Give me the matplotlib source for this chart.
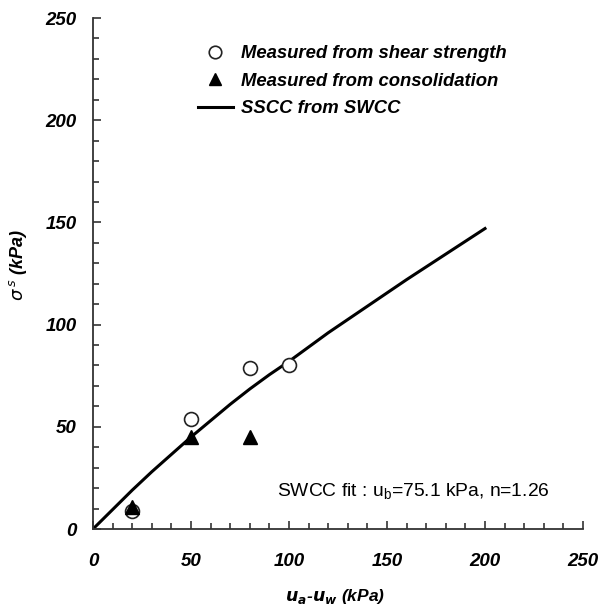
import matplotlib
matplotlib.use("Agg")
import matplotlib.pyplot as plt
from matplotlib.ticker import MultipleLocator

# Data
shear_x = [20, 50, 80, 100]
shear_y = [9, 54, 79, 80]
consol_x = [20, 50, 80]
consol_y = [11, 45, 45]
sscc_x = [0, 10, 20, 30, 40, 50, 60, 70, 80, 90, 100, 120, 140, 160, 180, 200]
sscc_y = [0, 9.5, 19, 28, 36.5, 45, 53, 61, 68.5, 75.5, 82, 96, 109, 122, 134.5, 147]

plt.rcParams['font.family'] = ['Liberation Sans', 'DejaVu Sans']
W, H = 604, 611
fig = plt.figure(figsize=(W/100, H/100), dpi=100)
ax = fig.add_axes([93/W, (H-529)/H, (583-93)/W, (529-18)/H])

ax.plot(sscc_x, sscc_y, color='black', lw=2.2, label='SSCC from SWCC', zorder=2)
ax.plot(shear_x, shear_y, 'o', ms=10, mfc='white', mec='#222222', mew=1.2,
        label='Measured from shear strength', zorder=3)
ax.plot(consol_x, consol_y, '^', ms=10, color='black',
        label='Measured from consolidation', zorder=4)

ax.set_xlim(0, 250)
ax.set_ylim(0, 250)
for s in ['top', 'right']:
    ax.spines[s].set_visible(False)
for s in ['left', 'bottom']:
    ax.spines[s].set_linewidth(1.3)
    ax.spines[s].set_color('#333333')

ax.xaxis.set_major_locator(MultipleLocator(50))
ax.yaxis.set_major_locator(MultipleLocator(50))
ax.xaxis.set_minor_locator(MultipleLocator(10))
ax.yaxis.set_minor_locator(MultipleLocator(10))
ax.tick_params(which='major', direction='in', length=6, width=1.2, color='#333333', pad=0)
ax.tick_params(which='minor', direction='in', length=4, width=1.2, color='#333333')
ax.tick_params(axis='x', which='major', pad=17)
ax.tick_params(axis='y', which='major', pad=12)
for lab in ax.get_xticklabels() + ax.get_yticklabels():
    lab.set_fontsize(13.5)
    lab.set_fontweight('bold')
    lab.set_fontstyle('italic')

ax.set_xlabel(r'$\mathbfit{u_a}$' + r'-' + r'$\mathbfit{u_w}$' + ' (kPa)', fontsize=12.5,
              fontweight='bold', fontstyle='italic', va='center')
ax.xaxis.set_label_coords((335-93)/490, -(597-529)/511)
ax.set_ylabel(r'$\sigma^{\,s}$ (kPa)', fontsize=13, fontweight='bold',
              fontstyle='italic', va='center')
ax.yaxis.set_label_coords((18-93)/490, (529-265)/511)

handles, labels = ax.get_legend_handles_labels()
order = [1, 2, 0]
leg = ax.legend([handles[i] for i in order], [labels[i] for i in order],
                loc='upper left', bbox_to_anchor=(0.18, 0.979), frameon=False,
                prop={'weight': 'bold', 'style': 'italic', 'size': 13.3},
                handlelength=1.9, handletextpad=0.45, labelspacing=0.57)
for h in leg.legend_handles[:2]:
    h.set_markersize(9)

ax.text(94, 18, r'SWCC fit : u$_{\mathregular{b}}$=75.1 kPa, n=1.26', fontsize=13.9,
        ha='left', va='center')

fig.savefig('out.png', dpi=100)
